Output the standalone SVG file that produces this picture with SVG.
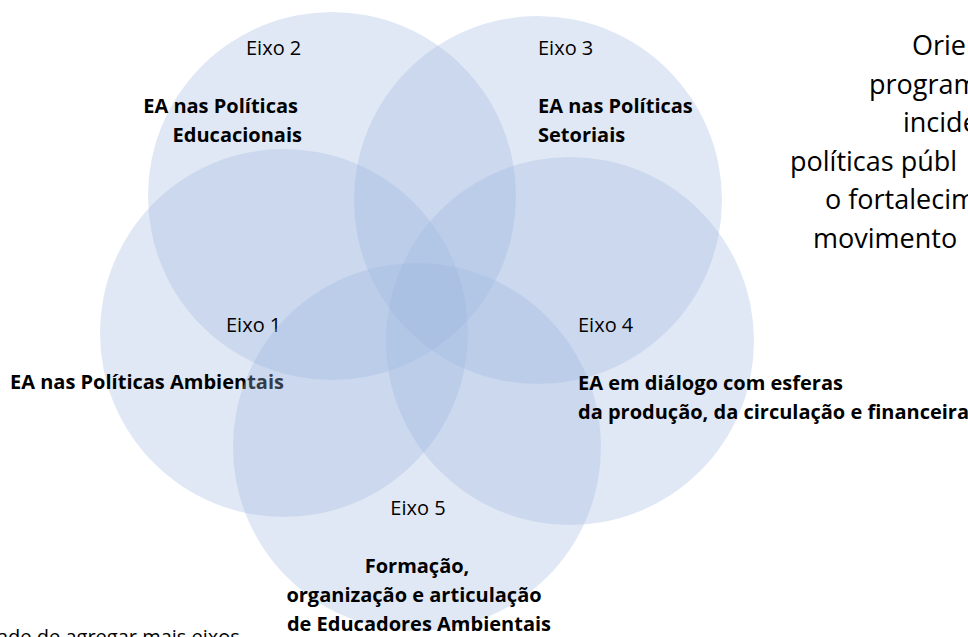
<svg xmlns="http://www.w3.org/2000/svg" width="968" height="637" viewBox="0 0 968 637">
  <style>
    .c { fill: #A0B7E1; fill-opacity: 0.32; stroke: none; }
    .t { font-family: "Open Sans", "Noto Sans", "Liberation Sans", sans-serif; fill: #000; }
    .lab { font-size: 20px; font-weight: 400; }
    .b { font-size: 20px; font-weight: 700; }
    .big { font-size: 27px; font-weight: 400; }
    .note { font-size: 20px; font-weight: 400; }
    .mid { text-anchor: middle; }
    .end { text-anchor: end; }
  </style>
  <rect width="968" height="637" fill="#ffffff"/>
  <g id="connectors"></g>
  <g id="eixo2">
    <circle class="c" cx="332" cy="196" r="184"/>
    <text class="t lab" x="246" y="55">Eixo 2</text>
    <text class="t b end" x="298" y="113">EA nas Políticas</text>
    <text class="t b end" x="302" y="142">Educacionais</text>
  </g>
  <g id="eixo3">
    <circle class="c" cx="538" cy="200" r="184"/>
    <text class="t lab" x="538" y="55">Eixo 3</text>
    <text class="t b" x="538" y="113">EA nas Políticas</text>
    <text class="t b" x="538" y="142">Setoriais</text>
  </g>
  <g id="eixo1">
    <circle class="c" cx="284" cy="333" r="184"/>
    <text class="t lab" x="226" y="332">Eixo 1</text>
    <text class="t b" x="10" y="389">EA nas Políticas Ambientais</text>
  </g>
  <g id="eixo5">
    <circle class="c" cx="417" cy="447" r="184"/>
    <text class="t lab mid" x="418" y="515">Eixo 5</text>
    <text class="t b mid" x="417" y="573">Formação,</text>
    <text class="t b mid" x="414" y="602">organização e articulação</text>
    <text class="t b mid" x="419" y="631">de Educadores Ambientais</text>
  </g>
  <g id="eixo4">
    <circle class="c" cx="570" cy="341" r="184"/>
    <text class="t lab" x="578" y="332">Eixo 4</text>
    <text class="t b" x="578" y="390">EA em diálogo com esferas</text>
    <text class="t b" x="578" y="419">da produção, da circulação e financeira</text>
  </g>
  <g id="orientacoes">
    <text class="t big" x="912" y="55">Orien</text>
    <text class="t big" x="869" y="94">program</text>
    <text class="t big" x="903" y="132">incide</text>
    <text class="t big" x="790" y="171">políticas públ</text>
    <text class="t big" x="825" y="209">o fortalecim</text>
    <text class="t big" x="813" y="248">movimento</text>
  </g>
  <g id="nota">
    <text class="t note" x="-3" y="644">ade de agregar mais eixos</text>
  </g>
</svg>
